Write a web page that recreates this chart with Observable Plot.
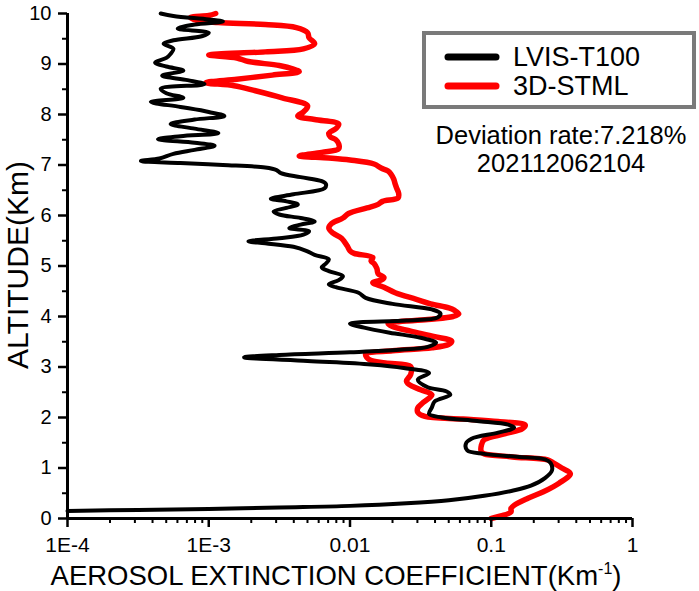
<!DOCTYPE html>
<html>
<head>
<meta charset="utf-8">
<script src="https://cdn.jsdelivr.net/npm/d3@7"></script>
<script src="https://cdn.jsdelivr.net/npm/@observablehq/plot@0.6"></script>
<style>
  html, body { margin: 0; padding: 0; background: #fff; }
  #chart { width: 699px; height: 591px; }
</style>
</head>
<body>
<div id="chart"></div>
<script>
// ---- data (altitude in km, extinction in km^-1) ----
const lvisAlt = [0.15,0.17,0.19,0.22,0.25,0.30,0.36,0.45,0.55,0.65,0.80,0.95,1.10,1.17,1.22,1.28,1.35,1.48,1.58,1.70,1.80,1.86,1.93,2.00,2.07,2.20,2.32,2.45,2.52,2.60,2.75,2.88,2.98,3.05,3.12,3.19,3.24,3.29,3.34,3.40,3.48,3.58,3.68,3.78,3.86,3.92,3.98,4.06,4.14,4.25,4.37,4.47,4.58,4.64,4.72,4.80,4.90,4.97,5.05,5.13,5.22,5.30,5.38,5.45,5.49,5.55,5.62,5.69,5.75,5.82,5.88,5.95,6.02,6.08,6.15,6.22,6.28,6.33,6.42,6.54,6.62,6.68,6.76,6.84,6.90,6.95,7.00,7.04,7.08,7.13,7.22,7.30,7.38,7.44,7.51,7.57,7.63,7.72,7.81,7.90,7.97,8.05,8.15,8.25,8.33,8.42,8.51,8.60,8.68,8.77,8.87,8.95,9.03,9.12,9.20,9.30,9.40,9.47,9.55,9.62,9.70,9.78,9.84,9.88,9.95,10.0];
const lvisExt = [1.00e-4,3.16e-4,1.00e-3,3.16e-3,0.0100,0.0251,0.0501,0.0891,0.141,0.191,0.240,0.269,0.263,0.240,0.158,0.0891,0.0676,0.0661,0.0724,0.112,0.145,0.132,0.0794,0.0447,0.0363,0.0380,0.0398,0.0513,0.0479,0.0355,0.0302,0.0363,0.0240,0.0141,0.00501,0.00178,0.00316,0.0100,0.0224,0.0355,0.0407,0.0316,0.0191,0.0126,0.0100,0.0251,0.0417,0.0437,0.0380,0.0200,0.0129,0.0115,0.00794,0.00708,0.00832,0.00891,0.00708,0.00631,0.00676,0.00708,0.00562,0.00490,0.00398,0.00251,0.00191,0.00316,0.00468,0.00513,0.00372,0.00447,0.00562,0.00447,0.00316,0.00288,0.00355,0.00427,0.00355,0.00275,0.00398,0.00661,0.00676,0.00631,0.00447,0.00324,0.00302,0.00251,0.00126,6.31e-4,3.31e-4,4.47e-4,5.62e-4,7.94e-4,1.10e-3,7.94e-4,4.37e-4,6.31e-4,1.17e-3,7.94e-4,5.37e-4,7.94e-4,1.29e-3,1.00e-3,6.31e-4,3.89e-4,6.61e-4,5.01e-4,4.57e-4,9.33e-4,7.08e-4,4.68e-4,6.61e-4,5.01e-4,4.17e-4,5.01e-4,5.37e-4,5.62e-4,4.79e-4,5.62e-4,8.91e-4,1.00e-3,6.03e-4,7.94e-4,1.26e-3,1.00e-3,5.62e-4,4.57e-4];

const stmlAlt = [0.00,0.05,0.13,0.20,0.26,0.40,0.53,0.70,0.89,1.00,1.10,1.16,1.22,1.28,1.32,1.45,1.56,1.68,1.78,1.85,1.92,1.97,2.02,2.10,2.19,2.30,2.45,2.55,2.65,2.72,2.85,3.01,3.08,3.14,3.25,3.32,3.38,3.45,3.51,3.60,3.71,3.80,3.86,3.94,4.00,4.05,4.12,4.17,4.25,4.34,4.47,4.58,4.67,4.72,4.77,4.85,4.95,5.05,5.10,5.17,5.25,5.30,5.40,5.55,5.65,5.75,5.84,5.95,6.04,6.15,6.22,6.28,6.35,6.44,6.54,6.62,6.72,6.82,6.88,6.94,7.02,7.10,7.14,7.18,7.25,7.32,7.42,7.50,7.56,7.63,7.72,7.81,7.90,7.97,8.05,8.17,8.33,8.47,8.57,8.63,8.70,8.78,8.85,8.90,8.97,9.05,9.12,9.18,9.24,9.30,9.40,9.52,9.62,9.72,9.78,9.82,9.86,9.92,9.96,10.0];
const stmlExt = [0.100,0.117,0.138,0.138,0.145,0.182,0.234,0.302,0.363,0.316,0.275,0.251,0.141,0.0891,0.0851,0.0851,0.0891,0.126,0.166,0.174,0.112,0.0631,0.0339,0.0302,0.0302,0.0331,0.0380,0.0316,0.0263,0.0251,0.0269,0.0269,0.0178,0.0138,0.0129,0.0200,0.0380,0.0501,0.0525,0.0398,0.0269,0.0200,0.0186,0.0355,0.0537,0.0589,0.0550,0.0501,0.0372,0.0295,0.0209,0.0174,0.0145,0.0166,0.0174,0.0158,0.0155,0.0148,0.0141,0.0145,0.0107,0.0100,0.00955,0.00871,0.00759,0.00708,0.00741,0.00891,0.00977,0.0132,0.0158,0.0170,0.0219,0.0221,0.0214,0.0209,0.0204,0.0195,0.0186,0.0166,0.0148,0.0100,0.00708,0.00437,0.00631,0.00832,0.00832,0.00794,0.00724,0.00708,0.00794,0.00832,0.00562,0.00427,0.00468,0.00501,0.00331,0.00214,0.00151,9.55e-4,0.00158,0.00282,0.00437,0.00398,0.00316,0.00191,0.00158,0.00100,0.00251,0.00468,0.00562,0.00513,0.00501,0.00417,0.00251,1.17e-3,8.32e-4,7.41e-4,1.00e-3,1.12e-3];

const seriesNames = ["LVIS-T100", "3D-STML"];
const seriesColors = ["#000000", "#ff0000"];

const xMajor = [1e-4, 1e-3, 0.01, 0.1, 1];
const xMajorLabels = ["1E-4", "1E-3", "0.01", "0.1", "1"];
const xMinor = [2e-4,3e-4,4e-4,5e-4,6e-4,7e-4,8e-4,9e-4,2e-3,3e-3,4e-3,5e-3,6e-3,7e-3,8e-3,9e-3,0.02,0.03,0.04,0.05,0.06,0.07,0.08,0.09,0.2,0.3,0.4,0.5,0.6,0.7,0.8,0.9];
const yMajor = [0,1,2,3,4,5,6,7,8,9,10];
const yMinor = [0.5,1.5,2.5,3.5,4.5,5.5,6.5,7.5,8.5,9.5];

const xTitle = "AEROSOL EXTINCTION COEFFICIENT(Km";
const xTitleSup = "-1";
const yTitle = "ALTITUDE(Km)";
const noteLines = ["Deviation rate:7.218%", "202112062104"];

// ---- build tables ----
const lvis = lvisAlt.map((a, i) => ({alt: a, ext: lvisExt[i]}));
const stml = stmlAlt.map((a, i) => ({alt: a, ext: stmlExt[i]}));
const labelOf = new Map(xMajor.map((v, i) => [v, xMajorLabels[i]]));

const FONT = "'Liberation Sans', Arial, 'DejaVu Sans', sans-serif";

const svg = Plot.plot({
  width: 699,
  height: 591,
  marginLeft: 67,
  marginRight: 67,
  marginTop: 13,
  marginBottom: 73,
  style: {fontFamily: FONT, fontSize: "20px", color: "#000", background: "#fff", overflow: "visible"},
  x: {type: "log", domain: [1e-4, 1]},
  y: {domain: [0, 10]},
  marks: [
    Plot.line(stml, {x: "ext", y: "alt", stroke: seriesColors[1], strokeWidth: 5.5, curve: "catmull-rom"}),
    Plot.line(lvis, {x: "ext", y: "alt", stroke: seriesColors[0], strokeWidth: 4, curve: "catmull-rom"}),
    Plot.axisX({ticks: xMinor, tickSize: 5, strokeWidth: 2, text: null, label: null}),
    Plot.axisX({ticks: xMajor, tickSize: 9, strokeWidth: 2.5, tickPadding: 10, tickFormat: d => labelOf.get(d), fontSize: 21, label: null}),
    Plot.axisY({ticks: yMinor, tickSize: 5, strokeWidth: 2, text: null, label: null}),
    Plot.axisY({ticks: yMajor, tickSize: 9, strokeWidth: 2.5, tickPadding: 7, tickFormat: d => String(d), fontSize: 20, label: null}),
    Plot.ruleX([1e-4], {strokeWidth: 3}),
    Plot.ruleY([0], {strokeWidth: 3})
  ]
});

const s = d3.select(svg);

// x title with superscript
const xt = s.append("text")
  .attr("x", 336).attr("y", 585)
  .attr("text-anchor", "middle")
  .attr("font-family", FONT).attr("font-size", 27.5).attr("fill", "#000");
xt.append("tspan").text(xTitle);
xt.append("tspan").attr("font-size", 16).attr("dy", -11).text(xTitleSup);
xt.append("tspan").attr("dy", 11).text(")");

// y title
s.append("text")
  .attr("transform", "translate(28,265) rotate(-90)")
  .attr("text-anchor", "middle")
  .attr("font-family", FONT).attr("font-size", 30).attr("fill", "#000")
  .text(yTitle);

// legend
const lg = s.append("g");
lg.append("rect").attr("x", 424).attr("y", 33).attr("width", 270).attr("height", 74)
  .attr("fill", "#fff").attr("stroke", "#7a7a7a").attr("stroke-width", 4);
seriesNames.forEach((name, i) => {
  const cy = 57 + i * 29;
  lg.append("line").attr("x1", 448).attr("x2", 496).attr("y1", cy).attr("y2", cy)
    .attr("stroke", seriesColors[i]).attr("stroke-width", 7).attr("stroke-linecap", "round");
  lg.append("text").attr("x", 513).attr("y", cy + 9)
    .attr("text-anchor", "start")
    .attr("font-family", FONT).attr("font-size", 27).attr("fill", "#000").text(name);
});

// annotation
noteLines.forEach((t, i) => {
  s.append("text").attr("x", 561).attr("y", 144 + i * 28)
    .attr("text-anchor", "middle")
    .attr("font-family", FONT).attr("font-size", 25.5).attr("fill", "#000").text(t);
});

document.getElementById("chart").appendChild(svg);
</script>
</body>
</html>
